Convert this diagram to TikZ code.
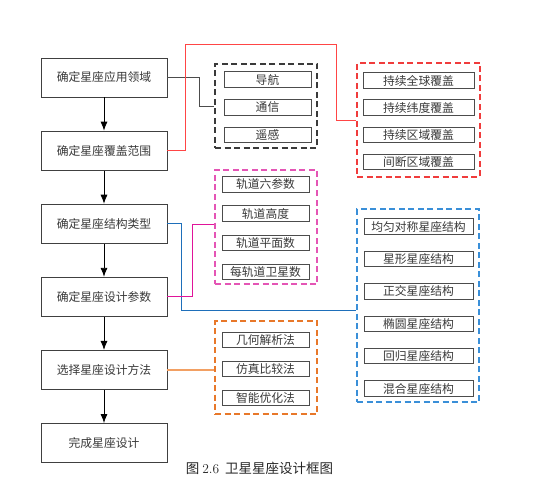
\documentclass[tikz,border=0pt]{standalone}
\usepackage{fontspec}
\newfontfamily\cjk{Noto Sans CJK SC}
\usetikzlibrary{arrows.meta,positioning}

\definecolor{grpblack}{HTML}{3A3A3A}
\definecolor{grpred}{HTML}{F03C3C}
\definecolor{grppink}{HTML}{E455B5}
\definecolor{grpblue}{HTML}{3A8FD8}
\definecolor{grporange}{HTML}{E8782A}
\definecolor{linkred}{HTML}{FF4545}
\definecolor{linkpink}{HTML}{E0149A}
\definecolor{linkblue}{HTML}{1E6FBA}
\definecolor{linkorange}{HTML}{F2A063}

\begin{document}
\begin{tikzpicture}[x=1pt, y=-1pt,
            every node/.style={font=\cjk\fontsize{11.8}{13}\selectfont, text=black!78},
            mainbox/.style={draw=black!75, line width=0.9pt, minimum width=126pt, minimum height=39pt, inner sep=0pt},
            itembox/.style={draw=black!70, line width=0.8pt, minimum width=87pt, minimum height=15.5pt, inner sep=0pt},
            groupbox/.style={dash pattern=on 6pt off 3.5pt, line width=1.25pt, inner sep=0pt},
            steparrow/.style={-{Latex[length=9pt, width=7pt]}, line width=0.8pt},
            node distance=33.2pt
        ]
            \useasboundingbox (0,0) rectangle (551,489);

            % main flow
            \node[mainbox] (s1) at (104,77.5) {确定星座应用领域};
            \node[mainbox, below=of s1] (s2) {确定星座覆盖范围};
            \node[mainbox, below=of s2] (s3) {确定星座结构类型};
            \node[mainbox, below=of s3] (s4) {确定星座设计参数};
            \node[mainbox, below=of s4] (s5) {选择星座设计方法};
            \node[mainbox, below=of s5] (s6) {完成星座设计};

            \draw[steparrow] (s1) -- (s2);
            \draw[steparrow] (s2) -- (s3);
            \draw[steparrow] (s3) -- (s4);
            \draw[steparrow] (s4) -- (s5);
            \draw[steparrow] (s5) -- (s6);

            % application fields
            \node[groupbox, draw=grpblack, minimum width=102pt, minimum height=84pt] (gapp) at (266,106) {};
            \node[itembox] (nav) at (267.5,79.5) {导航};
            \node[itembox, below=11.5pt of nav] (comm) {通信};
            \node[itembox, below=11.5pt of comm] (sens) {遥感};

            % coverage types
            \node[groupbox, draw=grpred, minimum width=123pt, minimum height=114pt] (gcov) at (418.5,120) {};
            \node[itembox, minimum width=111pt] (cov1) at (418.5,80.5) {持续全球覆盖};
            \node[itembox, minimum width=111pt, below=10.8pt of cov1] (cov2) {持续纬度覆盖};
            \node[itembox, minimum width=111pt, below=10.8pt of cov2] (cov3) {持续区域覆盖};
            \node[itembox, minimum width=111pt, below=10.8pt of cov3] (cov4) {间断区域覆盖};

            % design parameters
            \node[groupbox, draw=grppink, minimum width=102pt, minimum height=114pt] (gpar) at (266,227) {};
            \node[itembox] (par1) at (265.5,184.5) {轨道六参数};
            \node[itembox, below=12.8pt of par1] (par2) {轨道高度};
            \node[itembox, below=12.8pt of par2] (par3) {轨道平面数};
            \node[itembox, below=12.8pt of par3] (par4) {每轨道卫星数};

            % constellation structures
            \node[groupbox, draw=grpblue, minimum width=122pt, minimum height=193pt] (gstr) at (418,305.5) {};
            \node[itembox, minimum width=109pt] (str1) at (418.5,226.5) {均匀对称星座结构};
            \node[itembox, minimum width=109pt, below=16.1pt of str1] (str2) {星形星座结构};
            \node[itembox, minimum width=109pt, below=16.1pt of str2] (str3) {正交星座结构};
            \node[itembox, minimum width=109pt, below=16.1pt of str3] (str4) {椭圆星座结构};
            \node[itembox, minimum width=109pt, below=16.1pt of str4] (str5) {回归星座结构};
            \node[itembox, minimum width=109pt, below=16.1pt of str5] (str6) {混合星座结构};

            % design methods
            \node[groupbox, draw=grporange, minimum width=102pt, minimum height=93pt] (gmet) at (266,367.5) {};
            \node[itembox] (met1) at (265.5,340) {几何解析法};
            \node[itembox, below=12.75pt of met1] (met2) {仿真比较法};
            \node[itembox, below=12.75pt of met2] (met3) {智能优化法};

            % links to groups
            \draw[black!70, line width=0.8pt] (s1.east) -- ++(32,0) |- (gapp.west);
            \draw[linkred, line width=0.9pt] (s2.east) -- ++(18,0) |- (336,44) |- (gcov.west);
            \draw[linkblue, line width=0.9pt] (s3.east) -- ++(14,0) |- ([yshift=-5pt]gstr.west);
            \draw[linkpink, line width=0.9pt] (s4.east) -- ++(25,0) |- ([yshift=3pt]gpar.west);
            \draw[linkorange, line width=1.2pt] (s5.east) -- (s5.east -| gmet.west);

            \node[font=\cjk\fontsize{13.5}{15}\selectfont, text=black!85] (cap) at (259.5,468.5) {图\ {\rmfamily 2.6}\ \ 卫星星座设计框图};
        \end{tikzpicture}
\end{document}
